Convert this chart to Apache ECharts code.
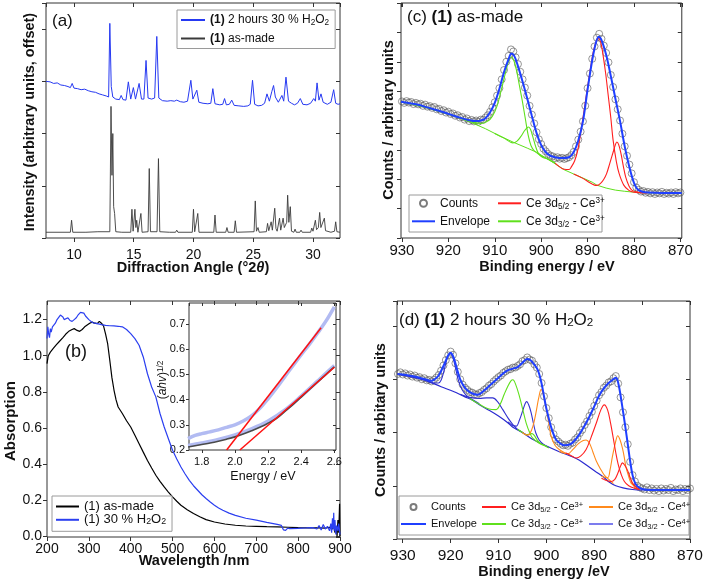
<!DOCTYPE html>
<html><head><meta charset="utf-8">
<script src="https://cdn.jsdelivr.net/npm/echarts/dist/echarts.min.js"></script>
<style>html,body{margin:0;padding:0;background:#fff}#c{width:708px;height:584px}</style>
</head><body><div id="c"></div>
<script>
// ---------- (a) XRD ----------
const xrdAsMade = [[7.66,0.11],[9.0,0.11],[9.7,0.11],[9.8,0.34],[9.9,0.11],[11,0.11],[12,0.12],[13.0,0.12],[13.1,2.52],[13.18,1.2],[13.25,2.0],[13.32,0.6],[13.4,0.47],[13.5,0.12],[14.0,0.11],[14.75,0.11],[14.85,0.55],[14.95,0.13],[15.0,0.12],[15.1,0.55],[15.18,0.2],[15.25,0.34],[15.35,0.11],[15.5,0.11],[15.6,0.47],[15.7,0.11],[16.2,0.12],[16.3,1.33],[16.4,0.12],[16.95,0.12],[17.07,1.52],[17.18,0.12],[18.0,0.11],[18.5,0.11],[18.6,0.15],[18.7,0.11],[19.9,0.11],[20.0,0.55],[20.1,0.12],[20.26,0.12],[20.36,0.47],[20.46,0.11],[21.7,0.11],[21.8,0.44],[21.9,0.11],[22.7,0.11],[22.8,0.2],[22.9,0.11],[23.4,0.11],[23.5,0.33],[23.6,0.11],[25.07,0.12],[25.17,0.71],[25.27,0.13],[25.4,0.2],[25.5,0.11],[26.1,0.12],[26.2,0.28],[26.3,0.14],[26.5,0.31],[26.6,0.15],[26.8,0.57],[26.9,0.18],[27.0,0.13],[27.2,0.38],[27.3,0.15],[27.5,0.38],[27.6,0.2],[27.8,0.3],[27.88,0.82],[27.98,0.3],[28.1,0.6],[28.2,0.13],[28.4,0.11],[28.5,0.17],[28.6,0.11],[28.9,0.11],[29.0,0.15],[29.1,0.11],[29.8,0.11],[29.9,0.19],[30.0,0.13],[30.2,0.34],[30.3,0.16],[30.45,0.2],[30.56,0.49],[30.66,0.2],[30.8,0.18],[30.95,0.38],[31.05,0.14],[31.5,0.11],[31.8,0.13],[31.9,0.31],[32.0,0.12],[32.26,0.11]];
const xrdH2O2 = [[7.66,3.0],[8.0,2.99],[8.3,2.96],[8.6,2.97],[8.9,2.93],[9.2,2.92],[9.5,2.9],[9.7,2.88],[9.85,2.96],[10.0,2.87],[10.3,2.86],[10.6,2.84],[10.9,2.85],[11.2,2.82],[11.5,2.8],[11.8,2.79],[12.1,2.76],[12.4,2.74],[12.7,2.72],[12.9,2.7],[13.0,4.11],[13.12,2.9],[13.25,2.7],[13.5,2.66],[13.8,2.65],[13.95,2.73],[14.1,2.65],[14.35,2.64],[14.55,2.99],[14.75,2.66],[14.97,2.88],[15.15,2.66],[15.3,2.66],[15.45,2.96],[15.65,2.66],[15.85,2.66],[16.03,3.4],[16.2,2.68],[16.5,2.66],[16.75,2.68],[16.93,3.86],[17.1,2.68],[17.4,2.63],[17.8,2.62],[18.1,2.63],[18.4,2.62],[18.6,2.64],[18.9,2.61],[19.2,2.6],[19.5,2.62],[19.78,3.02],[19.95,2.66],[20.1,2.68],[20.28,2.83],[20.45,2.6],[20.8,2.58],[21.2,2.57],[21.45,2.58],[21.62,2.86],[21.8,2.57],[22.2,2.55],[22.45,2.56],[22.6,2.67],[22.75,2.55],[23.0,2.56],[23.2,2.64],[23.4,2.54],[23.8,2.53],[24.2,2.52],[24.55,2.53],[24.75,2.56],[24.94,3.02],[25.12,2.56],[25.4,2.53],[25.7,2.54],[25.95,2.58],[26.15,2.76],[26.35,2.62],[26.55,2.8],[26.7,2.92],[26.85,2.7],[27.1,2.6],[27.4,2.73],[27.55,2.62],[27.74,3.08],[27.95,2.62],[28.2,2.58],[28.45,2.55],[28.7,2.58],[28.94,2.67],[29.15,2.56],[29.5,2.55],[29.8,2.58],[30.06,2.67],[30.2,2.62],[30.34,2.97],[30.5,2.64],[30.67,2.76],[30.85,2.6],[31.2,2.56],[31.5,2.6],[31.73,2.84],[31.9,2.58],[32.1,2.56],[32.26,2.57]];

// ---------- (b) UV-vis ----------
const uvAsMade = [[200,0.956],[203,1.0],[208,1.02],[215,1.04],[222,1.06],[230,1.08],[238,1.1],[245,1.12],[252,1.135],[260,1.145],[265,1.15],[272,1.14],[278,1.135],[284,1.145],[290,1.16],[296,1.17],[302,1.18],[308,1.186],[314,1.18],[320,1.178],[325,1.19],[330,1.18],[335,1.165],[340,1.12],[345,1.065],[350,0.975],[355,0.88],[360,0.81],[365,0.755],[370,0.716],[380,0.68],[390,0.64],[400,0.605],[410,0.56],[420,0.513],[430,0.466],[440,0.42],[450,0.378],[460,0.338],[470,0.304],[480,0.273],[490,0.245],[500,0.218],[510,0.194],[520,0.172],[535,0.147],[550,0.126],[565,0.108],[580,0.092],[600,0.079],[625,0.068],[650,0.061],[675,0.057],[700,0.055],[725,0.053],[750,0.052],[775,0.05],[800,0.048],[825,0.047],[850,0.046],[865,0.045],[875,0.05],[882,0.04],[885,0.06],[888,0.02],[891,0.05],[893,0.0],[895,0.09],[896,0.1],[897,0.02],[899,0.18],[900,0.0]];
const uvH2O2 = [[200,1.095],[202,1.16],[204,1.12],[206,1.1],[208,1.15],[210,1.13],[213,1.16],[216,1.17],[220,1.18],[224,1.2],[228,1.21],[232,1.225],[235,1.233],[238,1.215],[241,1.2],[245,1.205],[250,1.21],[255,1.195],[260,1.19],[265,1.2],[270,1.21],[275,1.228],[280,1.24],[284,1.232],[288,1.236],[292,1.22],[296,1.215],[300,1.2],[305,1.19],[310,1.182],[315,1.18],[320,1.178],[330,1.172],[340,1.168],[350,1.166],[360,1.165],[370,1.163],[380,1.16],[390,1.145],[400,1.122],[410,1.095],[420,1.058],[430,0.993],[440,0.9],[450,0.827],[460,0.772],[470,0.68],[480,0.605],[490,0.54],[500,0.476],[510,0.428],[520,0.384],[530,0.345],[540,0.31],[550,0.28],[560,0.255],[570,0.23],[580,0.209],[590,0.19],[600,0.172],[610,0.157],[620,0.144],[635,0.128],[650,0.116],[675,0.1],[700,0.089],[725,0.077],[750,0.066],[760,0.06],[765,0.035],[770,0.033],[775,0.045],[780,0.042],[800,0.044],[820,0.046],[835,0.048],[845,0.04],[850,0.06],[855,0.035],[860,0.065],[865,0.04],[870,0.055],[875,0.03],[878,0.07],[880,0.02],[882,0.1],[884,0.04],[885,0.13],[886,0.03],[888,0.09],[890,0.01],[892,0.06],[895,0.03],[897,0.07],[900,0.01]];
// inset (Tauc)
const insetH2O2 = [[1.717,0.245],[1.76,0.258],[1.8,0.265],[1.85,0.272],[1.9,0.28],[1.95,0.29],[2.0,0.3],[2.05,0.315],[2.1,0.335],[2.15,0.365],[2.2,0.403],[2.25,0.445],[2.3,0.49],[2.35,0.534],[2.4,0.578],[2.45,0.62],[2.5,0.665],[2.55,0.712],[2.6,0.768]];
const insetH2O2b = [[1.717,0.218],[1.8,0.228],[1.9,0.242],[2.0,0.26],[2.1,0.284],[2.2,0.315],[2.3,0.358],[2.4,0.414],[2.5,0.474],[2.6,0.535]];
const insetAsMade = [[1.717,0.212],[1.8,0.222],[1.85,0.228],[1.9,0.235],[1.95,0.243],[2.0,0.252],[2.05,0.263],[2.1,0.276],[2.15,0.29],[2.2,0.306],[2.25,0.325],[2.3,0.352],[2.35,0.38],[2.4,0.41],[2.45,0.44],[2.5,0.47],[2.55,0.5],[2.6,0.53]];
const fitH2O2 = [[1.95,0.2],[2.52,0.685]];
const fitAsMade = [[2.03,0.2],[2.6,0.528]];

// ---------- (c) XPS as-made ----------
const countsC = [[930,4.65],[929.5,4.6],[929,4.66],[928.5,4.61],[928,4.63],[927.5,4.56],[927,4.6],[926.5,4.55],[926,4.57],[925.5,4.5],[925,4.54],[924.5,4.47],[924,4.49],[923.5,4.43],[923,4.46],[922.5,4.38],[922,4.4],[921.5,4.32],[921,4.35],[920.5,4.27],[920,4.3],[919.5,4.22],[919,4.24],[918.5,4.16],[918,4.18],[917.5,4.1],[917,4.12],[916.5,4.03],[916,4.07],[915.5,3.98],[915,4.02],[914.5,3.97],[914,4.0],[913.5,3.96],[913,4.03],[912.5,4.02],[912,4.1],[911.5,4.18],[911,4.3],[910.5,4.45],[910,4.62],[909.5,4.85],[909,5.1],[908.5,5.4],[908,5.72],[907.5,6.0],[907,6.2],[906.5,6.42],[906,6.35],[905.5,6.15],[905,5.92],[904.5,5.66],[904,5.4],[903.5,5.12],[903,4.85],[902.5,4.5],[902,4.2],[901.5,3.9],[901,3.6],[900.5,3.36],[900,3.2],[899.5,3.04],[899,2.95],[898.5,2.86],[898,2.8],[897.5,2.78],[897,2.72],[896.5,2.75],[896,2.7],[895.5,2.73],[895,2.69],[894.5,2.72],[894,2.75],[893.5,2.82],[893,2.93],[892.5,3.12],[892,3.35],[891.5,3.62],[891,3.97],[890.5,4.5],[890,5.1],[889.5,5.6],[889,6.1],[888.5,6.52],[888,6.82],[887.5,6.95],[887,6.78],[886.5,6.55],[886,6.3],[885.5,5.98],[885,5.55],[884.5,5.14],[884,4.72],[883.5,4.38],[883,4.0],[882.5,3.55],[882,3.12],[881.5,2.8],[881,2.5],[880.5,2.2],[880,1.9],[879.5,1.72],[879,1.64],[878.5,1.58],[878,1.6],[877.5,1.54],[877,1.57],[876.5,1.52],[876,1.56],[875.5,1.5],[875,1.55],[874.5,1.52],[874,1.57],[873.5,1.5],[873,1.54],[872.5,1.51],[872,1.55],[871.5,1.5],[871,1.56],[870.5,1.52],[870,1.55]];
const envelopeC = [[930.2,4.64],[927,4.55],[924,4.42],[921,4.28],[918,4.12],[916,4.03],[914,3.98],[913,4.0],[912,4.08],[911,4.28],[910,4.6],[909,5.08],[908,5.65],[907,6.1],[906.4,6.28],[905.8,6.2],[905,5.85],[904,5.32],[903,4.75],[902,4.15],[901,3.58],[900,3.16],[899,2.92],[898,2.8],[897,2.75],[895.5,2.72],[894,2.75],[893,2.92],[892,3.32],[891,3.97],[890,5.05],[889,6.05],[888.2,6.65],[887.6,6.85],[887,6.74],[886,6.24],[885,5.52],[884,4.74],[883,3.98],[882,3.12],[881,2.42],[880,1.88],[879,1.63],[877,1.55],[869.7,1.53]];
const backgroundC = [[930.2,4.64],[925,4.45],[920,4.22],[917,4.05],[915,3.93],[912,3.72],[909,3.48],[906,3.26],[903,3.06],[901,2.92],[898.2,2.65],[895,2.32],[893,2.18],[891,2.04],[889,1.9],[888,1.8],[886,1.7],[884,1.63],[882,1.59],[880,1.56],[877,1.54],[869.7,1.53]];
const c33C1 = [[930.2,4.64],[925,4.46],[920,4.23],[917,4.06],[915,3.96],[913,3.9],[911.5,3.98],[910.5,4.15],[909.5,4.5],[908.5,5.1],[907.5,5.75],[906.9,6.07],[906.4,6.16],[905.9,6.05],[905.3,5.7],[904.7,5.2],[904.1,4.7],[903.4,4.05],[902.8,3.5],[902.2,3.15],[901.5,2.97],[900.5,2.85],[899,2.72],[897,2.55]];
const c33C2 = [[910,3.56],[908,3.4],[906.1,3.24],[905.2,3.3],[904.4,3.45],[903.6,3.65],[903,3.76],[902.7,3.78],[902.3,3.7],[901.8,3.45],[901.2,3.12],[900.6,2.88],[899.8,2.76],[898.5,2.68],[897,2.55]];
const c52C1 = [[897,2.55],[895,2.34],[894,2.33],[893.5,2.42],[892.8,2.62],[892.1,3.0],[891.4,3.67],[890.7,4.4],[890,5.14],[889.3,5.85],[888.7,6.39],[888.1,6.7],[887.6,6.79],[887.1,6.62],[886.6,6.16],[886.1,5.6],[885.6,4.92],[885,4.1],[884.5,3.33],[883.8,2.6],[883.2,2.19],[882.2,1.8],[881.1,1.62],[880,1.56],[877,1.54]];
const c52C2 = [[893,2.18],[891,2.03],[889.5,1.88],[888.5,1.8],[888,1.79],[887.2,1.86],[886.5,2.0],[885.9,2.19],[885.2,2.55],[884.5,2.92],[884,3.18],[883.7,3.27],[883.3,3.18],[882.8,2.87],[882.3,2.45],[881.8,2.08],[881.1,1.78],[880.4,1.62],[879.1,1.56],[877,1.54]];

// ---------- (d) XPS 2 h H2O2 ----------
const countsD = [[931,3.1],[930.5,3.13],[930,3.09],[929.5,3.11],[929,3.07],[928.5,3.09],[928,3.05],[927.5,3.07],[927,3.03],[926.5,3.04],[926,3.0],[925.5,3.02],[925,2.98],[924.5,2.99],[924,2.96],[923.5,2.99],[923,3.03],[922.5,3.08],[922,3.16],[921.5,3.26],[921,3.36],[920.5,3.45],[920,3.52],[919.5,3.46],[919,3.3],[918.5,3.14],[918,3.0],[917.5,2.9],[917,2.84],[916.5,2.8],[916,2.76],[915.5,2.75],[915,2.72],[914.5,2.71],[914,2.74],[913.5,2.76],[913,2.8],[912.5,2.83],[912,2.88],[911.5,2.91],[911,2.96],[910.5,3.0],[910,3.04],[909.5,3.07],[909,3.12],[908.5,3.15],[908,3.18],[907.5,3.19],[907,3.22],[906.5,3.22],[906,3.25],[905.5,3.28],[905,3.34],[904.5,3.36],[904,3.41],[903.5,3.37],[903,3.35],[902.5,3.28],[902,3.22],[901.5,3.1],[901,2.93],[900.5,2.68],[900,2.46],[899.5,2.27],[899,2.1],[898.5,1.97],[898,1.87],[897.5,1.83],[897,1.79],[896.5,1.76],[896,1.77],[895.5,1.75],[895,1.79],[894.5,1.81],[894,1.87],[893.5,1.91],[893,1.99],[892.5,2.05],[892,2.14],[891.5,2.21],[891,2.31],[890.5,2.39],[890,2.5],[889.5,2.6],[889,2.7],[888.5,2.76],[888,2.84],[887.5,2.88],[887,2.94],[886.5,2.96],[886,3.02],[885.5,3.06],[885,2.92],[884.5,2.66],[884,2.38],[883.5,2.1],[883,1.78],[882.5,1.45],[882,1.2],[881.5,1.08],[881,1.0],[880.5,0.97],[880,0.95],[879.5,0.93],[879,0.97],[878.5,0.92],[878,0.95],[877.5,0.91],[877,0.94],[876.5,0.9],[876,0.95],[875.5,0.91],[875,0.94],[874.5,0.92],[874,0.96],[873.5,0.9],[873,0.93],[872.5,0.92],[872,0.95],[871.5,0.9],[871,0.94],[870.5,0.92],[870,0.95]];
const envelopeD = [[931,3.1],[928,3.06],[925,2.99],[924.3,2.97],[923.5,2.99],[922.5,3.07],[921.5,3.25],[920.5,3.45],[920,3.5],[919.5,3.44],[919,3.3],[918,3.0],[917,2.84],[916,2.76],[915,2.72],[914.3,2.71],[913,2.79],[912,2.87],[911,2.95],[910,3.03],[909,3.11],[908,3.17],[907,3.2],[906,3.23],[905,3.31],[904,3.38],[903.5,3.37],[903,3.33],[902,3.21],[901.5,3.1],[901,2.92],[900.5,2.68],[900,2.45],[899,2.1],[898,1.87],[897,1.79],[896.3,1.76],[895,1.78],[894,1.86],[893,1.98],[892,2.13],[891,2.3],[890,2.49],[889,2.69],[888,2.83],[887,2.93],[886,3.0],[885.5,3.03],[885.2,3.0],[884.8,2.85],[884.3,2.58],[883.5,2.1],[883,1.78],[882.5,1.46],[882,1.2],[881.5,1.06],[881,0.99],[880,0.94],[878,0.92],[870,0.92]];
const backgroundD = [[931.2,3.1],[928,3.04],[925,2.97],[922,2.86],[919.4,2.77],[917,2.67],[915.5,2.61],[914,2.52],[912,2.42],[910,2.31],[908,2.18],[907,2.1],[905,2.0],[903,1.88],[900.1,1.75],[897.3,1.64],[895,1.56],[893.1,1.48],[891.5,1.38],[889.6,1.26],[888,1.16],[886.9,1.07],[885.5,1.0],[884,0.96],[882,0.93],[880,0.92],[870,0.92]];
const c34D1 = [[925,2.97],[923.5,2.93],[922.5,2.93],[922,2.98],[921.5,3.12],[921,3.3],[920.5,3.44],[920,3.48],[919.5,3.4],[919,3.22],[918.5,3.02],[918,2.88],[917.3,2.76],[916.5,2.68],[915.5,2.62],[914,2.54]];
const c34D2 = [[918,2.72],[916,2.66],[914,2.64],[912.5,2.65],[911.2,2.65],[910.2,2.58],[909.1,2.43],[908,2.27],[907,2.15],[906,2.06],[905,2.0],[904,1.95]];
const c34D3 = [[908,2.2],[907,2.13],[906.3,2.12],[905.6,2.24],[904.9,2.42],[904.4,2.55],[904.1,2.58],[903.7,2.52],[903.2,2.38],[902.7,2.17],[902.2,1.99],[901.5,1.86],[900.5,1.77],[899.5,1.72]];
const c33D1 = [[916,2.64],[914,2.53],[912,2.44],[910.5,2.43],[909.6,2.54],[908.8,2.72],[908,2.88],[907.4,2.97],[907,2.99],[906.4,2.9],[905.6,2.67],[904.9,2.42],[904.2,2.17],[903.5,2.0],[902.9,1.9],[901.5,1.8],[900,1.74]];
const c33D2 = [[906,2.06],[905,2.0],[904.2,1.96],[903.5,1.97],[903,1.98],[902.5,1.94],[902,1.87],[901.3,1.8],[900.5,1.76],[899.5,1.71]];
const c54D1 = [[905,2.0],[904,1.95],[903.5,1.97],[902.8,2.12],[902.2,2.36],[901.6,2.65],[901.1,2.81],[900.6,2.7],[900.1,2.49],[899.5,2.18],[899,1.93],[898.2,1.76],[897.3,1.68],[896,1.61]];
const c54D2 = [[897.3,1.65],[895.5,1.6],[894.5,1.68],[893.3,1.79],[892.3,1.85],[891.7,1.86],[891,1.8],[890.3,1.64],[889.6,1.47],[888.6,1.3],[887.9,1.2],[887.2,1.14],[886,1.04]];
const c54D3 = [[888.5,1.18],[887.2,1.15],[886.7,1.3],[886.2,1.55],[885.6,1.8],[885.1,1.94],[884.6,1.86],[884.1,1.7],[883.7,1.52],[883.4,1.36],[882.8,1.17],[882.3,1.05],[881.3,0.97],[880.6,0.94]];
const c52D1 = [[896,1.62],[894.5,1.55],[893.8,1.52],[892.8,1.56],[891.7,1.68],[890.7,1.9],[889.6,2.17],[888.6,2.43],[887.9,2.52],[887.2,2.42],[886.6,2.18],[886,1.88],[885.5,1.62],[885,1.4],[884.4,1.22],[883.7,1.08],[882.8,1.0],[881.5,0.95],[880.5,0.93]];
const c52D2 = [[888.5,1.14],[887.5,1.1],[886.5,1.08],[885.7,1.12],[885.1,1.23],[884.6,1.35],[884.1,1.43],[883.6,1.38],[883,1.28],[882.5,1.15],[882,1.05],[881.3,0.98],[880.6,0.94]];

// ---------- styling / layout ----------
const FONT = '"Liberation Sans", Arial, Helvetica, sans-serif';
const INK = '#111';
const FRAME = '#333';

function rich(fs, bold) {
  const w = bold ? 'bold' : 'normal';
  const s = Math.round(fs * 0.68 * 10) / 10;
  return {
    n: {fontSize: fs, fontFamily: FONT, fontWeight: w, color: INK},
    b: {fontSize: fs, fontFamily: FONT, fontWeight: 'bold', color: INK},
    i: {fontSize: fs, fontFamily: FONT, fontWeight: w, fontStyle: 'italic', color: INK},
    bi: {fontSize: fs, fontFamily: FONT, fontWeight: 'bold', fontStyle: 'italic', color: INK},
    sub: {fontSize: s, fontFamily: FONT, fontWeight: w, color: INK, verticalAlign: 'bottom', lineHeight: Math.round(fs * 0.5)},
    sup: {fontSize: s, fontFamily: FONT, fontWeight: w, color: INK, verticalAlign: 'top', lineHeight: Math.round(fs * 0.5)}
  };
}

function ax(gi, pos, min, max, o) {
  o = o || {};
  const a = {
    type: 'value', gridIndex: gi, position: pos, min: min, max: max,
    inverse: !!o.inverse, scale: false,
    axisLine: {show: false, onZero: false},
    splitLine: {show: false},
    axisTick: {show: true, inside: !!o.inside, length: o.tickLen || 4, lineStyle: {color: FRAME, width: 1}},
    axisLabel: o.label ? Object.assign({show: true, fontFamily: FONT, color: INK,
      showMinLabel: o.showMin !== false, showMaxLabel: o.showMax !== false}, o.label) : {show: false}
  };
  if (o.interval) a.interval = o.interval;
  if (o.splitNumber) a.splitNumber = o.splitNumber;
  return a;
}
const f1 = v => v.toFixed(1);

const grids = [
  {left: 46, top: 3, width: 294, height: 235},
  {left: 47, top: 301, width: 293, height: 236},
  {left: 189, top: 303, width: 147, height: 147},
  {left: 401, top: 3, width: 293, height: 235},
  {left: 397, top: 301, width: 293, height: 238}
].map(g => Object.assign({show: true, borderColor: FRAME, borderWidth: 1, backgroundColor: 'rgba(0,0,0,0)', containLabel: false}, g));

const AX = {a: [7.66, 32.26], b: [200, 900], ins: [1.723, 2.61], c: [869.7, 930.2], d: [870, 931.2]};
const AY = {a: [0, 4.5], b: [-0.004, 1.303], ins: [0.2, 0.783], c: [0, 8], d: [0, 4.47]};

const xAxes = [
  ax(0, 'bottom', AX.a[0], AX.a[1], {label: {fontSize: 14, margin: 10}, showMin: false, showMax: false}),
  ax(1, 'bottom', AX.b[0], AX.b[1], {interval: 100, label: {fontSize: 14, margin: 5}}),
  ax(2, 'bottom', AX.ins[0], AX.ins[1], {tickLen: 3, label: {fontSize: 11, margin: 6, formatter: f1}, showMin: false, showMax: false}),
  ax(3, 'bottom', AX.c[0], AX.c[1], {inverse: true, label: {fontSize: 15, margin: 5}, showMin: false, showMax: false}),
  ax(4, 'bottom', AX.d[0], AX.d[1], {inverse: true, label: {fontSize: 15.5, margin: 9}, showMax: false}),
  ax(0, 'top', AX.a[0], AX.a[1], {inside: true}),
  ax(1, 'top', AX.b[0], AX.b[1], {inside: true, interval: 100}),
  ax(2, 'top', AX.ins[0], AX.ins[1], {inside: true, tickLen: 3}),
  ax(3, 'top', AX.c[0], AX.c[1], {inside: true, inverse: true}),
  ax(4, 'top', AX.d[0], AX.d[1], {inside: true, inverse: true})
];
const yAxes = [
  ax(0, 'left', AY.a[0], AY.a[1], {interval: 1}),
  ax(1, 'left', AY.b[0], AY.b[1], {splitNumber: 7, label: {fontSize: 14, margin: 5, formatter: f1}, showMin: false, showMax: false}),
  ax(2, 'left', AY.ins[0], AY.ins[1], {tickLen: 3, label: {fontSize: 11, margin: 4, formatter: f1}, showMax: false}),
  ax(3, 'left', AY.c[0], AY.c[1], {interval: 1}),
  ax(4, 'left', AY.d[0], AY.d[1], {interval: 1}),
  ax(0, 'right', AY.a[0], AY.a[1], {inside: true, interval: 1}),
  ax(1, 'right', AY.b[0], AY.b[1], {inside: true, splitNumber: 7}),
  ax(2, 'right', AY.ins[0], AY.ins[1], {inside: true, tickLen: 3}),
  ax(3, 'right', AY.c[0], AY.c[1], {inside: true, interval: 1}),
  ax(4, 'right', AY.d[0], AY.d[1], {inside: true, interval: 1})
];

const C = {
  xrdBlue: '#2639f2', xrdBlack: '#3a3a3a', uvBlack: '#000000', uvBlue: '#2b3ff0',
  env: '#1f3fff', red: '#ff1f1f', green: '#5fe01c', orange: '#ff8a1c', ce4b: '#3030d0', ce4bLeg: '#7c7cee', bgD: '#2a2ad0',
  insBlue: '#b2bbf2', insBlack: '#4a4a4a', fit: '#ff1010', counts: '#5a5a5a'
};

const series = [];
function line(name, data, gi, color, width, extra) {
  series.push(Object.assign({type: 'line', name: name, data: data, xAxisIndex: gi, yAxisIndex: gi,
    symbol: 'none', showSymbol: false, animation: false, silent: true, z: 3,
    lineStyle: {color: color, width: width}, itemStyle: {color: color}}, extra || {}));
}
function counts(data, gi) {
  series.push({type: 'scatter', name: 'Counts', data: data, xAxisIndex: gi, yAxisIndex: gi,
    symbol: 'circle', symbolSize: 7, animation: false, silent: true, z: 2,
    itemStyle: {color: 'rgba(255,255,255,0)', borderColor: C.counts, borderWidth: 0.8}});
}
const SM = {smooth: 0.35};

// (a)
line('xrdH2O2', xrdH2O2, 0, C.xrdBlue, 1);
line('xrdAsMade', xrdAsMade, 0, C.xrdBlack, 0.9);
// (b)
line('uvAsMade', uvAsMade, 1, C.uvBlack, 1.2);
line('uvH2O2', uvH2O2, 1, C.uvBlue, 1.2);
// inset
line('', insetH2O2, 2, C.insBlue, 3.5, SM);
line('', insetH2O2b, 2, C.insBlue, 3.5, SM);
line('', insetAsMade, 2, C.insBlack, 1.6, SM);
line('', fitH2O2, 2, C.fit, 1.5);
line('', fitAsMade, 2, C.fit, 1.5);
// (c)
counts(countsC, 3);
line('', backgroundC, 3, C.green, 1);
line('c33', c33C1, 3, C.green, 1.1, SM);
line('c33', c33C2, 3, C.green, 1.1, SM);
line('c53', c52C1, 3, C.red, 1.1, SM);
line('c53', c52C2, 3, C.red, 1.1, SM);
line('Envelope', envelopeC, 3, C.env, 2, SM);
// (d)
counts(countsD, 4);
line('', backgroundD, 4, C.bgD, 1.2, SM);
line('c34', c34D1, 4, C.ce4b, 1.1, SM);
line('c34', c34D2, 4, C.ce4b, 1.1, SM);
line('c34', c34D3, 4, C.ce4b, 1.1, SM);
line('c33', c33D1, 4, C.green, 1.1, SM);
line('c33', c33D2, 4, C.green, 1.1, SM);
line('c54', c54D1, 4, C.orange, 1.1, SM);
line('c54', c54D2, 4, C.orange, 1.1, SM);
line('c54', c54D3, 4, C.orange, 1.1, SM);
line('c53', c52D1, 4, C.red, 1.1, SM);
line('c53', c52D2, 4, C.red, 1.1, SM);
line('Envelope', envelopeD, 4, C.env, 2, SM);

// legend labels
const LBL = {
  xrdH2O2: '{b|(1)} 2 hours 30 % H{sub|2}O{sub|2}',
  xrdAsMade: '{b|(1)} as-made',
  uvAsMade: '(1) as-made',
  uvH2O2: '(1) 30 % H{sub|2}O{sub|2}',
  Counts: 'Counts', Envelope: 'Envelope',
  c53: 'Ce 3d{sub|5/2} - Ce{sup|3+}', c33: 'Ce 3d{sub|3/2} - Ce{sup|3+}',
  c54: 'Ce 3d{sub|5/2} - Ce{sup|4+}', c34: 'Ce 3d{sub|3/2} - Ce{sup|4+}'
};
// line legend items: hide the default symbol dot, keep the line
const L = (name, extra) => Object.assign({name: name, itemStyle: {opacity: 0}}, extra || {});
function lg(o, fs, lh) {
  return Object.assign({
    orient: 'vertical', selectedMode: false, padding: 0, itemGap: 4, itemWidth: 23, itemHeight: 8,
    formatter: n => LBL[n] || n, z: 12,
    textStyle: {fontFamily: FONT, fontSize: fs, color: INK, lineHeight: lh, rich: rich(fs, false)}
  }, o);
}
const legends = [
  lg({left: 177, top: 10, data: [L('xrdH2O2'), L('xrdAsMade')], itemWidth: 24, itemGap: 4.5, padding: [3, 6, 3, 3],
      borderColor: '#9a9a9a', borderWidth: 1, backgroundColor: '#fff'}, 12, 14),
  lg({left: 52, top: 496, data: [L('uvAsMade'), L('uvH2O2')], itemGap: 0.3, padding: [4, 6, 5, 3],
      borderColor: '#9a9a9a', borderWidth: 1, backgroundColor: '#fff'}, 13, 13),
  lg({left: 411, top: 196.3, data: ['Counts', L('Envelope')], itemHeight: 7}, 12, 14),
  lg({left: 497, top: 196.3, data: [L('c53'), L('c33')]}, 12, 14),
  lg({left: 400, top: 500.5, data: ['Counts', L('Envelope')], itemWidth: 25, itemHeight: 6, itemGap: 4}, 11, 13),
  lg({left: 481, top: 500.5, data: [L('c53'), L('c33')], itemWidth: 24, itemGap: 4}, 11, 13),
  lg({left: 588, top: 500.5, data: [L('c54'), L('c34', {lineStyle: {color: C.ce4bLeg}})], itemWidth: 24, itemGap: 4}, 11, 13)
];

function txt(x, y, text, fs, bold, o) {
  o = o || {};
  return {type: 'text', x: x, y: y, rotation: o.rot || 0, silent: true, z: 20,
    style: {text: text, fill: INK, fontSize: fs, fontFamily: FONT, fontWeight: bold ? 'bold' : 'normal',
      align: o.align || 'center', verticalAlign: 'middle', rich: rich(fs, bold)}};
}
const R90 = Math.PI / 2;
const graphics = [
  {type: 'rect', silent: true, z: 10, shape: {x: 409, y: 195, width: 193, height: 37},
    style: {fill: '#fff', stroke: '#9a9a9a', lineWidth: 1}},
  {type: 'rect', silent: true, z: 10, shape: {x: 399, y: 496, width: 290, height: 39},
    style: {fill: '#fff', stroke: '#9a9a9a', lineWidth: 1}},
  txt(30, 122, 'Intensity (arbitrary units, offset)', 14.5, true, {rot: R90}),
  txt(193, 268, 'Diffraction Angle (°2{bi|θ})', 14.5, true),
  txt(11, 421, 'Absorption', 15, true, {rot: R90}),
  txt(194, 561, 'Wavelength /nm', 14.5, true),
  txt(389, 120, 'Counts / arbitrary units', 14.5, true, {rot: R90}),
  txt(547, 267, 'Binding energy / eV', 14.5, true),
  txt(381, 420, 'Counts / arbitary units', 14.5, true, {rot: R90}),
  txt(544, 572, 'Binding energy /eV', 14.5, true),
  txt(163, 380, '({i|ahv}){sup|1/2}', 12, false, {rot: R90}),
  txt(263, 477, 'Energy / eV', 12.5, false),
  txt(52, 21, '(a)', 17, false, {align: 'left'}),
  txt(76, 352, '(b)', 18, false),
  txt(407, 17.5, '(c) {b|(1)} as-made', 17, false, {align: 'left'}),
  txt(399, 320, '(d) {b|(1)} 2 hours 30 % H{sub|2}O{sub|2}', 17, false, {align: 'left'})
];

const chart = echarts.init(document.getElementById('c'), null, {renderer: 'canvas'});
chart.setOption({
  animation: false,
  backgroundColor: '#fff',
  textStyle: {fontFamily: FONT},
  grid: grids,
  xAxis: xAxes,
  yAxis: yAxes,
  legend: legends,
  series: series,
  graphic: graphics
});
</script>
</body></html>
